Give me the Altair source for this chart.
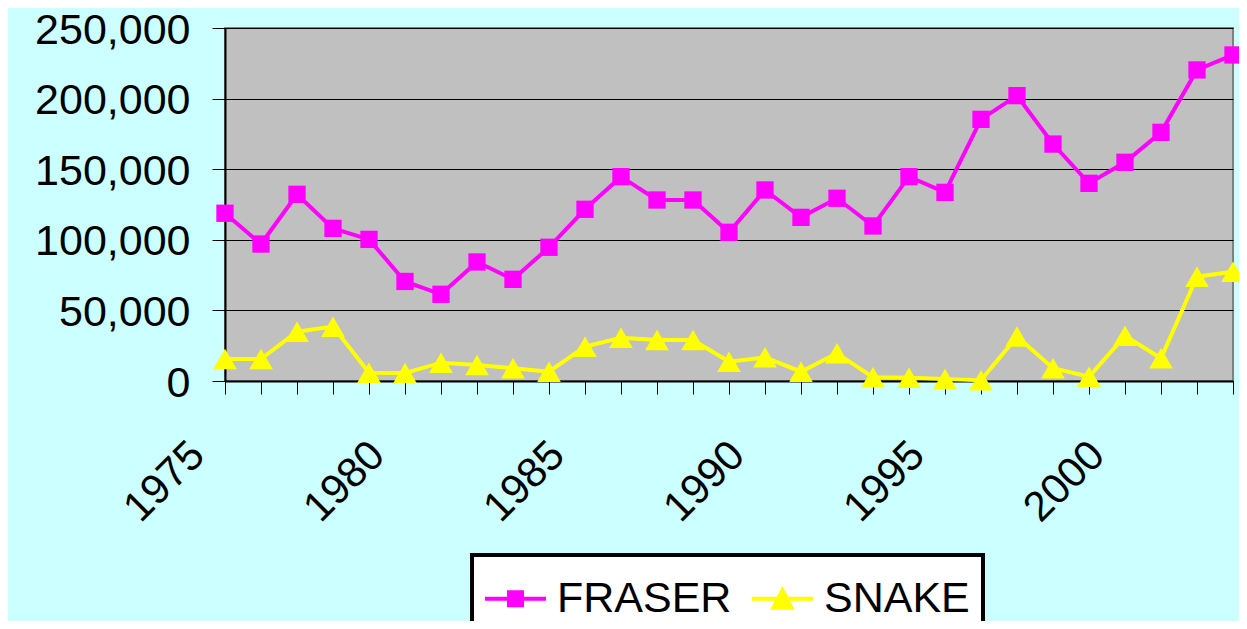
import altair as alt
import pandas as pd

YEARS = list(range(1975, 2004))
FRASER = [118800, 97000, 132200, 108100, 100300, 70500, 61400, 84300, 72000, 94700,
          121600, 144700, 128200, 128200, 105300, 135300, 115900, 129400, 109800, 144700,
          133600, 185300, 202100, 167800, 140000, 154900, 176100, 220300, 230900]
SNAKE = [15600, 15600, 34900, 38500, 5900, 5600, 13000, 11300, 9000, 6600,
         24300, 30700, 29000, 29000, 13700, 16800, 6600, 19600, 2600, 2300,
         1400, 500, 31500, 9000, 3000, 32000, 16100, 73900, 77400]
SERIES = ["FRASER", "SNAKE"]
COLORS = ["#FF00FF", "#FFFF00"]
SHAPES = ["square", "triangle-up"]
SIZES = [300, 560]
Y_TICKS = [0, 50000, 100000, 150000, 200000, 250000]
LABEL_YEARS = [1975, 1980, 1985, 1990, 1995, 2000]

# legend symbols: line + marker in one path (unit box -1..1)
LEGEND_PATHS = [
    "M-1,-0.066H1V0.066H-1Z M-0.28,-0.28H0.28V0.28H-0.28Z",
    "M-1,-0.066H1V0.066H-1Z M0,-0.42L0.4,0.36L-0.4,0.36Z",
]

rows = []
for i, yr in enumerate(YEARS):
    rows.append({"year": yr, "series": "FRASER", "value": FRASER[i]})
    rows.append({"year": yr, "series": "SNAKE", "value": SNAKE[i]})
df = pd.DataFrame(rows)

FONT = "Liberation Sans"

x_enc = alt.X(
    "year:Q",
    scale=alt.Scale(domain=[YEARS[0], YEARS[-1]], nice=False, zero=False),
    axis=alt.Axis(
        values=YEARS,
        labelExpr=f"indexof({LABEL_YEARS}, datum.value) >= 0 ? toString(datum.value) : ''",
        title=None, grid=False, tickSize=13, tickColor="black", tickWidth=1,
        domainColor="black", domainWidth=2,
        labelAngle=315, labelAlign="right", labelBaseline="middle",
        labelFont=FONT, labelFontSize=42, labelColor="black",
        labelPadding=54, labelOffset=-28, labelOverlap=False, labelBound=False,
        labelFlush=False,
    ),
)
y_enc = alt.Y(
    "value:Q",
    scale=alt.Scale(domain=[0, 250000], nice=False),
    axis=alt.Axis(
        values=Y_TICKS, format=",d", title=None,
        grid=True, gridColor="black", gridWidth=1,
        tickSize=13, tickColor="black", tickWidth=1,
        domainColor="black", domainWidth=2,
        labelFont=FONT, labelFontSize=43, labelColor="black",
        labelBaseline="alphabetic", labelOffset=15,
        labelPadding=22, labelOverlap=False, labelBound=False, labelFlush=False,
    ),
)

base = alt.Chart(df)
layers = []
for s, c in zip(SERIES, COLORS):
    layers.append(
        base.transform_filter(alt.datum.series == s)
        .mark_line(color=c, strokeWidth=4)
        .encode(x=x_enc, y=y_enc)
    )
for s, c, sh, sz in zip(SERIES, COLORS, SHAPES, SIZES):
    layers.append(
        base.transform_filter(alt.datum.series == s)
        .mark_point(filled=True, opacity=1, color=c, shape=sh, size=sz, strokeWidth=0)
        .encode(x=x_enc, y=y_enc)
    )

legend_def = alt.Legend(
    orient="none", legendX=247, legendY=527, direction="horizontal", title=None,
    fillColor="white", strokeColor="black", padding=13,
    labelFont=FONT, labelFontSize=43, labelColor="black", labelOffset=11,
    labelLimit=0, columnPadding=20, symbolSize=3721, symbolStrokeWidth=0,
    symbolOpacity=1,
)
legend_layer = (
    base.transform_filter("false")
    .mark_point(filled=True, opacity=1, size=3721)
    .encode(
        color=alt.Color("series:N", scale=alt.Scale(domain=SERIES, range=COLORS), legend=legend_def),
        shape=alt.Shape("series:N", scale=alt.Scale(domain=SERIES, range=LEGEND_PATHS), legend=legend_def),
    )
)
layers.append(legend_layer)

chart = (
    alt.layer(*layers)
    .properties(
        width=1008, height=353,
        background="#CCFFFF",
        padding={"left": 217, "top": 20, "right": 6, "bottom": 240},
        autosize=alt.AutoSizeParams(type="none"),
        view=alt.ViewBackground(fill="#C0C0C0", stroke="#808080", strokeWidth=2),
    )
    .configure_legend(strokeWidth=4)
)

chart.save("out.html", embed_options={"renderer": "svg", "actions": False})
